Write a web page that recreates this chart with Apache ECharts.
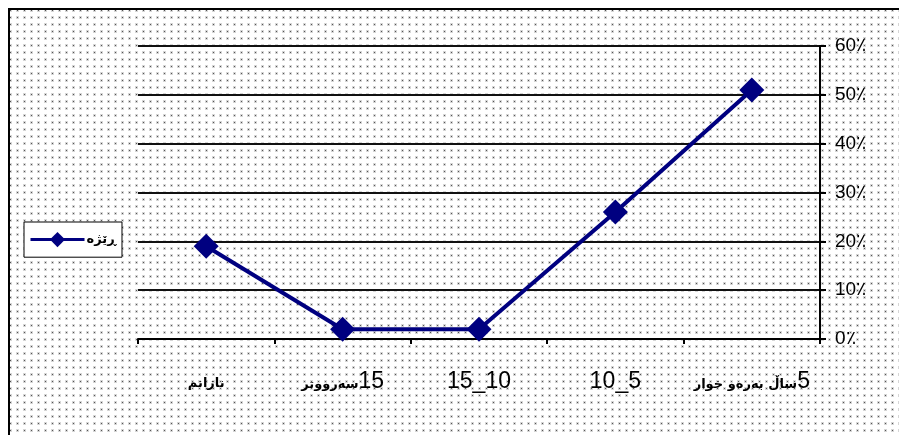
<!DOCTYPE html>
<html>
<head>
<meta charset="utf-8">
<script src="https://cdn.jsdelivr.net/npm/echarts@6/dist/echarts.min.js"></script>
<style>
  html, body { margin: 0; padding: 0; background: #fff; }
  #chart { width: 899px; height: 435px; }
</style>
</head>
<body>
<div id="chart"></div>
<script>
// Categories (age ranges, in years) and share of answers per range
const categories = ['نازانم', '15سەرووتر', '15_10', '10_5', '5ساڵ بەرەو خوار'];
const ratioValues = [19, 2, 2, 26, 51];
const seriesName = 'ڕێژە';
const yTicks = { min: 0, max: 60, step: 10 };

// Small dotted tile used to fill the chart background
function dotTile() {
  const c = document.createElement('canvas');
  c.width = 7; c.height = 7;
  const g = c.getContext('2d');
  g.fillStyle = '#ffffff';
  g.fillRect(0, 0, 7, 7);
  g.fillStyle = '#d6d6d6';
  g.fillRect(2, 2, 3, 3);
  g.fillStyle = '#555555';
  g.fillRect(3, 3, 1, 1);
  return c;
}

// Split a label into its leading number and the Arabic-script words,
// and lay them out right-to-left with rich text styles
function labelRich(value) {
  const m = value.match(/^(\d+)(.*)$/);
  if (m && /[\u0600-\u06FF]/.test(m[2])) {
    return '{ar|' + m[2] + '}{num|' + m[1] + '}';
  }
  if (/[\u0600-\u06FF]/.test(value)) return '{ar|' + value + '}';
  return '{num|' + value + '}';
}

const chart = echarts.init(document.getElementById('chart'), null, { renderer: 'canvas' });

chart.setOption({
  animation: false,
  backgroundColor: '#ffffff',
  graphic: [{
    type: 'rect',
    z: -10,
    silent: true,
    shape: { x: 9, y: 9, width: 900, height: 440 },
    style: {
      fill: { image: dotTile(), repeat: 'repeat' },
      stroke: '#000000',
      lineWidth: 2
    }
  }],
  grid: { left: 138, right: 79, top: 46, bottom: 96, containLabel: false },
  legend: {
    left: 24,
    top: 222,
    orient: 'vertical',
    backgroundColor: '#ffffff',
    borderColor: '#000000',
    borderWidth: 1,
    padding: [10, 6, 10, 5],
    itemWidth: 54,
    itemHeight: 19,
    itemGap: 0,
    lineStyle: { width: 3 },
    textStyle: { fontFamily: 'DejaVu Sans', fontWeight: 'bold', fontSize: 13, color: '#000', padding: [0, 0, 0, -3] },
    data: [{ name: seriesName }]
  },
  xAxis: {
    type: 'category',
    data: categories,
    boundaryGap: true,
    axisLine: { lineStyle: { color: '#000', width: 2 } },
    axisTick: { show: true, interval: 0, length: 5, lineStyle: { color: '#000', width: 2 } },
    axisLabel: {
      interval: 0,
      margin: 31,
      formatter: labelRich,
      rich: {
        num: { fontFamily: 'Liberation Sans', fontSize: 23, color: '#000' },
        ar: { fontFamily: 'DejaVu Sans', fontSize: 13, fontWeight: 'bold', color: '#000', padding: [7, 0, 0, 0] }
      }
    },
    splitLine: { show: false }
  },
  yAxis: {
    type: 'value',
    position: 'right',
    min: yTicks.min,
    max: yTicks.max,
    interval: yTicks.step,
    axisLine: { show: true, lineStyle: { color: '#000', width: 2 } },
    axisTick: { show: true, length: 6, lineStyle: { color: '#000', width: 2 } },
    axisLabel: {
      margin: 15,
      fontFamily: 'Liberation Sans',
      fontSize: 19,
      color: '#000',
      formatter: v => v + '٪'
    },
    splitLine: { show: true, lineStyle: { color: '#111', width: 2 } }
  },
  series: [{
    name: seriesName,
    type: 'line',
    data: ratioValues,
    symbol: 'diamond',
    symbolSize: 25,
    lineStyle: { color: '#000080', width: 4 },
    itemStyle: { color: '#000080' }
  }]
});
</script>
</body>
</html>
